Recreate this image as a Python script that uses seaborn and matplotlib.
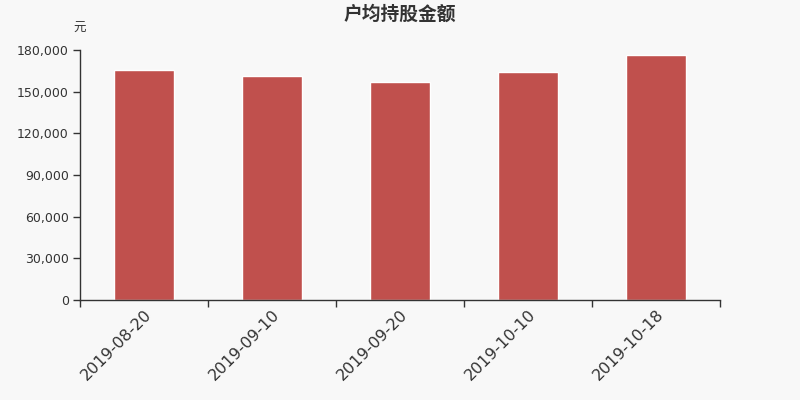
import matplotlib
matplotlib.use("Agg")
import matplotlib.pyplot as plt
import seaborn as sns
import pandas as pd
from matplotlib.ticker import FuncFormatter, FixedLocator

# data
dates = ["2019-08-20", "2019-09-10", "2019-09-20", "2019-10-10", "2019-10-18"]
amounts = [165800, 161300, 156700, 164200, 176400]
y_ticks = [0, 30000, 60000, 90000, 120000, 150000, 180000]

bg = "#f8f8f8"
bar_color = "#c0504d"
text_color = "#333333"

sns.set_style("white")
plt.rcParams["font.family"] = ["Noto Sans CJK SC", "DejaVu Sans"]

df = pd.DataFrame({"date": dates, "amount": amounts})

fig = plt.figure(figsize=(8, 4), dpi=100, facecolor=bg)
ax = fig.add_axes([0.1, 0.25, 0.8, 0.625])
ax.set_facecolor(bg)

sns.barplot(data=df, x="date", y="amount", color=bar_color, saturation=1,
            width=0.47, ax=ax)

ax.set_xlim(-0.5, len(dates) - 0.5)
ax.set_ylim(0, 180000)
ax.set_yticks(y_ticks)
ax.yaxis.set_major_formatter(FuncFormatter(lambda v, p: f"{int(v):,}"))
ax.tick_params(axis="y", left=True, labelsize=9, colors=text_color,
               length=5, width=1, pad=3)
for lbl in ax.get_yticklabels():
    lbl.set_family("DejaVu Sans")

# category boundary ticks on x
ax.xaxis.set_minor_locator(FixedLocator([i - 0.5 for i in range(len(dates) + 1)]))
ax.tick_params(axis="x", which="minor", bottom=True, length=5, width=1, color=text_color)
ax.tick_params(axis="x", which="major", bottom=False, length=0, pad=5)
for lbl in ax.get_xticklabels():
    lbl.set_rotation(45)
    lbl.set_ha("right")
    lbl.set_va("top")
    lbl.set_rotation_mode("anchor")
    lbl.set_fontsize(11.5)
    lbl.set_family("DejaVu Sans")
    lbl.set_color(text_color)

for side in ["top", "right"]:
    ax.spines[side].set_visible(False)
for side in ["left", "bottom"]:
    ax.spines[side].set_color(text_color)
    ax.spines[side].set_linewidth(1)

ax.set_xlabel("")
ax.set_ylabel("")
fig.text(0.1, 0.93, "元", fontsize=9, color=text_color, ha="center", va="center")
fig.text(0.5, 0.965, "户均持股金额", fontsize=13.5, fontweight="bold", color=text_color,
         ha="center", va="center")

fig.savefig("out.png", dpi=100, facecolor=bg)
